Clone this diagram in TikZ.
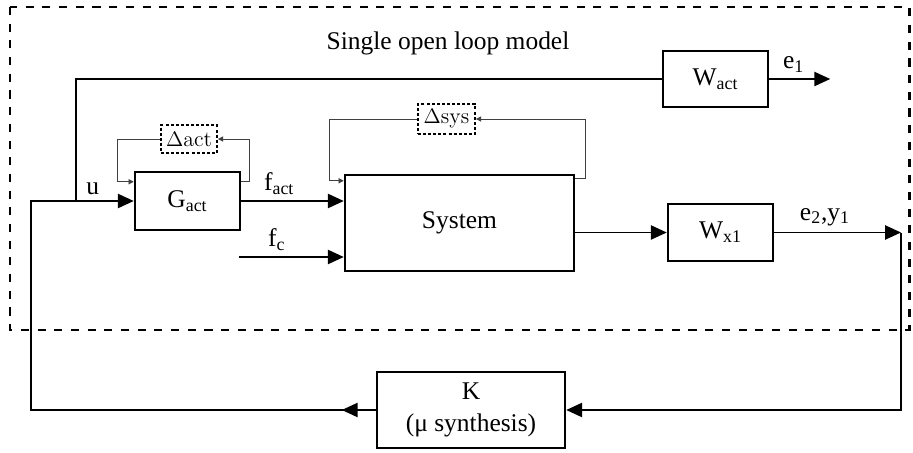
\documentclass[tikz,border=0pt]{standalone}
\usepackage{fontspec}
\setmainfont{Liberation Serif}
\usetikzlibrary{arrows.meta,calc}

\tikzset{
  blk/.style={draw, line width=1.4pt, inner sep=0pt},
  dblk/.style={draw, line width=1.1pt, dash pattern=on 1.7pt off 1.2pt, inner sep=0pt},
  arr/.style={line width=1.1pt, -{Triangle[length=9pt, width=8pt]}},
  loopline/.style={line width=0.5pt, black!75, -{Triangle[length=3pt, width=3pt]}},
}
\newcommand{\lmtext}[1]{{\fontfamily{lmr}\selectfont #1}}

\begin{document}
\begin{tikzpicture}[x=0.02cm, y=-0.02cm, font=\fontsize{14.5}{17}\selectfont]
  \useasboundingbox (0,0) rectangle (913,453);

  % 开环模型虚线框
  \draw[line width=1.7pt, dash pattern=on 4.6pt off 4.9pt] (10,7) rectangle (909,330);
  \node at (448,43) {Single open loop model};

  % 方框
  \node[blk, minimum width=105*0.02cm, minimum height=58*0.02cm] (Gact) at (187.5,201) {G\textsubscript{act}};
  \node[dblk, minimum width=56*0.02cm, minimum height=28*0.02cm, font=\fontsize{12.5}{14}\selectfont] (Dact) at (189,139) {$\Delta$\lmtext{act}};
  \node[blk, minimum width=229*0.02cm, minimum height=96*0.02cm] (Sys) at (459.5,223) {System};
  \node[dblk, minimum width=57*0.02cm, minimum height=30*0.02cm, font=\fontsize{12.5}{14}\selectfont] (Dsys) at (446.5,119) {$\Delta$\lmtext{sys}};
  \node[blk, minimum width=105*0.02cm, minimum height=56*0.02cm] (Wact) at (715.5,79) {W\textsubscript{act}};
  \node[blk, minimum width=105*0.02cm, minimum height=57*0.02cm] (Wx1) at (720.5,232.5) {W\textsubscript{x1}};
  \node[blk, minimum width=188*0.02cm, minimum height=76*0.02cm, align=center] (Kctrl) at (471,410) {K\\[1pt](μ synthesis)};

  % 端点
  \coordinate (uleft) at (31,201);
  \coordinate (ubranch) at (76,201);
  \coordinate (fcin) at (239,257);
  \coordinate (yout) at (901,232.5);

  % 不确定性回路
  \draw[loopline] ($(Gact.north east)+(0,11)$) -- ++(8,0) |- (Dact.east);
  \draw[loopline] (Dact.west) -- ++(-43,0) |- ($(Gact.north west)+(0,11)$);
  \draw[loopline] ($(Sys.north east)+(0,5)$) -- ++(10,0) |- (Dsys.east);
  \draw[loopline] (Dsys.west) -- ++(-88,0) |- ($(Sys.north west)+(0,7)$);

  % 信号连线
  \draw[arr] (Gact.east) -- (Gact.east -| Sys.west) node[pos=0.37, above] {f\textsubscript{act}};
  \draw[arr] (fcin) -- (fcin -| Sys.west) node[pos=0.36, above] {f\textsubscript{c}};
  \draw[arr] (Wx1.west -| Sys.east) -- (Wx1.west);
  \draw[arr] (Wx1.east) -- (yout) node[pos=0.4, above] {e\textsubscript{2},y\textsubscript{1}};
  \draw[line width=1.1pt] (ubranch) |- (Wact.west);
  \draw[arr] (Wact.east) -- ++(61,0) node[pos=0.4, above] {e\textsubscript{1}};

  % 反馈回路
  \draw[arr] (yout) |- (Kctrl.east);
  \draw[arr] (Kctrl.west) -- ++(-34,0);
  \draw[arr] (Kctrl.west) -| (uleft) -- (Gact.west);
  \node[above] at ($(uleft)!0.6!(Gact.west)$) {u};
\end{tikzpicture}
\end{document}
